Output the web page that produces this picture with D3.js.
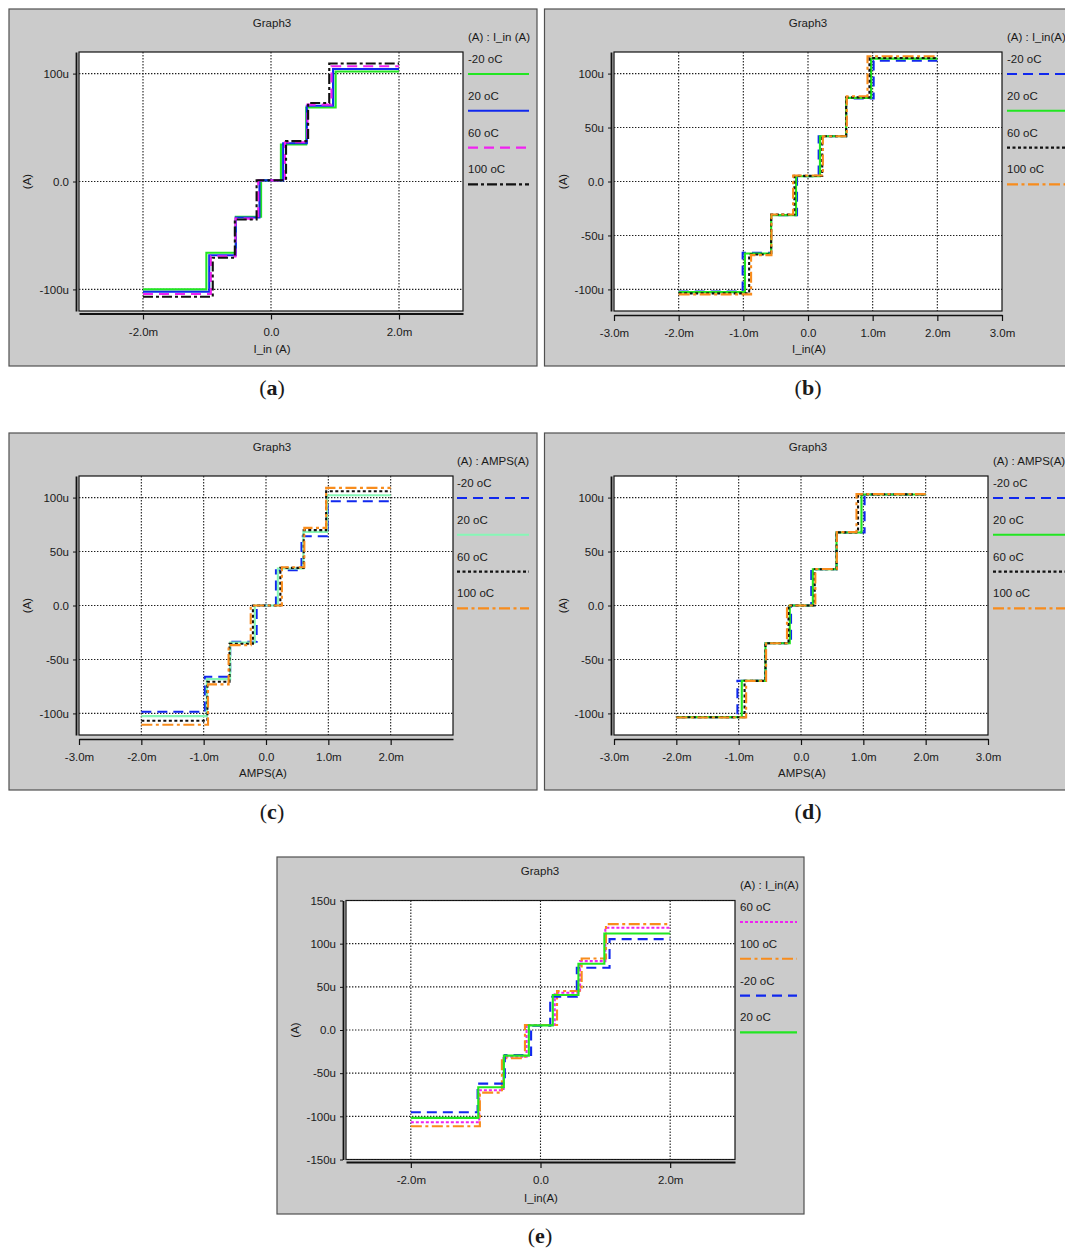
<!DOCTYPE html>
<html>
<head>
<meta charset="utf-8">
<script src="https://cdn.jsdelivr.net/npm/d3@7"></script>
<style>
  html, body { margin: 0; padding: 0; background: #fff; }
  svg { display: block; }
  text { font-family: "Liberation Sans", Arial, Helvetica, sans-serif; fill: #1a1a1a; }
</style>
</head>
<body>
<script>
// ---- data: staircase transfer curves (x in mA, y in µA) ----
const xStart = -2, xEnd = 2;

// (a)
const aSeries = ["-20 oC", "20 oC", "60 oC", "100 oC"];
const aLevels = [
  [-100.0, -66.0, -32.6, 1.0, 34.3, 68.6, 102.0],
  [-102.2, -68.4, -33.3, 1.0, 35.5, 70.2, 104.3],
  [-104.3, -69.4, -34.4, 1.0, 36.4, 71.2, 106.8],
  [-106.8, -70.7, -35.2, 1.2, 37.4, 72.8, 109.4]
];
const aSteps = [
  [-1.01, -0.55, -0.155, 0.155, 0.55, 1.01],
  [-0.965, -0.55, -0.18, 0.19, 0.56, 0.97],
  [-0.94, -0.555, -0.20, 0.218, 0.57, 0.945],
  [-0.91, -0.565, -0.225, 0.235, 0.58, 0.91]
];

// (b)
const bSeries = ["-20 oC", "20 oC", "60 oC", "100 oC"];
const bLevels = [
  [-101.9, -66.0, -31.2, 4.9, 42.0, 76.9, 112.0],
  [-102.5, -66.7, -31.2, 4.9, 42.0, 77.5, 113.9],
  [-103.7, -67.6, -30.6, 5.2, 42.0, 78.0, 114.5],
  [-104.6, -68.2, -30.6, 5.6, 42.0, 79.0, 116.0]
];
const bSteps = [
  [-1.01, -0.57, -0.17, 0.165, 0.59, 1.015],
  [-0.975, -0.57, -0.185, 0.185, 0.59, 0.975],
  [-0.91, -0.57, -0.21, 0.22, 0.59, 0.95],
  [-0.88, -0.565, -0.23, 0.23, 0.60, 0.92]
];

// (c)
const cSeries = ["-20 oC", "20 oC", "60 oC", "100 oC"];
const cLevels = [
  [-98.5, -66.0, -33.6, 0.0, 32.7, 64.2, 96.6],
  [-102.5, -68.2, -34.3, 0.0, 34.3, 68.2, 102.2],
  [-106.8, -70.7, -35.5, 0.0, 34.9, 69.8, 105.9],
  [-110.5, -73.1, -36.7, 0.0, 35.5, 71.9, 109.0]
];
const cSteps = [
  [-0.98, -0.575, -0.15, 0.16, 0.57, 0.99],
  [-0.95, -0.575, -0.18, 0.19, 0.60, 0.98],
  [-0.94, -0.585, -0.21, 0.23, 0.605, 0.965],
  [-0.93, -0.60, -0.245, 0.255, 0.615, 0.965]
];

// (d)
const dSeries = ["-20 oC", "20 oC", "60 oC", "100 oC"];
const dLevels = [
  [-103.4, -69.8, -35.0, 0.0, 33.6, 67.6, 102.8],
  [-103.4, -69.8, -35.0, 0.0, 33.6, 67.6, 102.8],
  [-103.6, -69.8, -35.0, 0.0, 33.6, 67.8, 103.0],
  [-103.8, -69.8, -35.0, 0.0, 33.8, 68.0, 103.2]
];
const dSteps = [
  [-1.02, -0.57, -0.16, 0.165, 0.57, 1.02],
  [-0.95, -0.57, -0.18, 0.19, 0.57, 0.97],
  [-0.905, -0.57, -0.20, 0.22, 0.57, 0.915],
  [-0.88, -0.56, -0.225, 0.23, 0.575, 0.89]
];

// (e)
const eSeries = ["60 oC", "100 oC", "-20 oC", "20 oC"];
const eLevels = [
  [-106.8, -69.8, -30.9, 5.8, 43.2, 79.8, 118.4],
  [-111.5, -72.5, -32.8, 5.8, 45.1, 82.9, 122.6],
  [-95.3, -62.1, -28.9, 5.0, 38.6, 72.1, 105.3],
  [-101.8, -66.3, -29.7, 5.4, 40.5, 76.7, 111.8]
];
const eSteps = [
  [-0.945, -0.57, -0.215, 0.22, 0.61, 1.0],
  [-0.935, -0.595, -0.24, 0.255, 0.635, 1.01],
  [-0.97, -0.55, -0.145, 0.15, 0.56, 1.065],
  [-0.96, -0.565, -0.18, 0.19, 0.585, 0.985]
];

// tick values and their labels
const xTicksAll = [-3, -2, -1, 0, 1, 2, 3];
const xLabelsAll = ["-3.0m", "-2.0m", "-1.0m", "0.0", "1.0m", "2.0m", "3.0m"];
const xTicksC = [-3, -2, -1, 0, 1, 2];
const xLabelsC = ["-3.0m", "-2.0m", "-1.0m", "0.0", "1.0m", "2.0m"];
const xTicksSparse = [-2, 0, 2];
const xLabelsSparse = ["-2.0m", "0.0", "2.0m"];
const yTicksSparse = [-100, 0, 100];
const yLabelsSparse = ["-100u", "0.0", "100u"];
const yTicks50 = [-100, -50, 0, 50, 100];
const yLabels50 = ["-100u", "-50u", "0.0", "50u", "100u"];
const yTicks150 = [-150, -100, -50, 0, 50, 100, 150];
const yLabels150 = ["-150u", "-100u", "-50u", "0.0", "50u", "100u", "150u"];

// ---- line styles ----
const GREEN = "#22e622", BLUE = "#1028ee", MAGENTA = "#f022f0", BLACK = "#111111",
      ORANGE = "#f88c1c", MINT = "#86f7b6";
const SOLID = null, DASH = "10,6", DASHDOT = "10,3,3,3", DOT = "3,2.5", ODASHDOT = "11,3.5,3,3.5", MDOT = "3,2";

const panels = [
  { tag: "a", frame: [9, 9, 528, 357], plot: [79, 52, 463, 311], yDom: [-120, 120], titleX: 272,
    xT: xTicksSparse, xL: xLabelsSparse, xGrid: [-2, 0, 2], yT: yTicksSparse, yL: yLabelsSparse,
    tightX: true, xTitle: "I_in (A)", xTitleX: 272, head: "(A) : I_in (A)", legX: 468, legW: 61,
    series: aSeries, levels: aLevels, steps: aSteps,
    colors: [GREEN, BLUE, MAGENTA, BLACK], dashes: [SOLID, SOLID, DASH, DASHDOT], cap: [272, 390] },
  { tag: "b", frame: [544.5, 9, 540, 357], plot: [614, 52, 1002, 311], yDom: [-120, 120], titleX: 808,
    xT: xTicksAll, xL: xLabelsAll, xGrid: [-2, -1, 0, 1, 2], yT: yTicks50, yL: yLabels50,
    tightX: false, xTitle: "I_in(A)", xTitleX: 809, head: "(A) : I_in(A)", legX: 1007, legW: 70,
    series: bSeries, levels: bLevels, steps: bSteps,
    colors: [BLUE, GREEN, BLACK, ORANGE], dashes: [DASH, SOLID, DOT, ODASHDOT], cap: [808, 390] },
  { tag: "c", frame: [9, 433, 528, 357], plot: [79, 476, 453, 735], yDom: [-120, 120], titleX: 272,
    xT: xTicksC, xL: xLabelsC, xGrid: [-2, -1, 0, 1, 2], yT: yTicks50, yL: yLabels50,
    tightX: false, xTitle: "AMPS(A)", xTitleX: 263, head: "(A) : AMPS(A)", legX: 457, legW: 72,
    series: cSeries, levels: cLevels, steps: cSteps,
    colors: [BLUE, MINT, BLACK, ORANGE], dashes: [DASH, SOLID, DOT, ODASHDOT], cap: [272, 814] },
  { tag: "d", frame: [544.5, 433, 540, 357], plot: [614, 476, 988, 735], yDom: [-120, 120], titleX: 808,
    xT: xTicksAll, xL: xLabelsAll, xGrid: [-2, -1, 0, 1, 2], yT: yTicks50, yL: yLabels50,
    tightX: false, xTitle: "AMPS(A)", xTitleX: 802, head: "(A) : AMPS(A)", legX: 993, legW: 80,
    series: dSeries, levels: dLevels, steps: dSteps,
    colors: [BLUE, GREEN, BLACK, ORANGE], dashes: [DASH, SOLID, DOT, ODASHDOT], cap: [808, 814] },
  { tag: "e", frame: [277, 857, 527, 357], plot: [346, 900.5, 735, 1159.5], yDom: [-150, 150], titleX: 540,
    xT: xTicksSparse, xL: xLabelsSparse, xGrid: [-2, 0, 2], yT: yTicks150, yL: yLabels150,
    tightX: true, xTitle: "I_in(A)", xTitleX: 541, head: "(A) : I_in(A)", legX: 740, legW: 57,
    series: eSeries, levels: eLevels, steps: eSteps,
    colors: [MAGENTA, ORANGE, BLUE, GREEN], dashes: [MDOT, ODASHDOT, DASH, SOLID], cap: [540, 1238] }
];

const W = 1065, H = 1254;
const svg = d3.select("body").append("svg").attr("width", W).attr("height", H);
svg.append("rect").attr("width", W).attr("height", H).attr("fill", "#fff");

function drawPanel(p) {
  const g = svg.append("g");
  const [fx, fy, fw, fh] = p.frame;
  const [L, T, R, B] = p.plot;

  // grey window
  g.append("rect").attr("x", fx).attr("y", fy).attr("width", fw).attr("height", fh)
    .attr("fill", "#cbcbcb").attr("stroke", "#505050").attr("stroke-width", 1.2);

  g.append("text").attr("x", p.titleX).attr("y", fy + 15).attr("text-anchor", "middle")
    .attr("dominant-baseline", "middle").attr("font-size", 11.5).text("Graph3");

  const x = d3.scaleLinear().domain([-3, 3]).range([L, R]);
  const y = d3.scaleLinear().domain(p.yDom).range([B, T]);

  // plotting area
  g.append("rect").attr("x", L).attr("y", T).attr("width", R - L).attr("height", B - T)
    .attr("fill", "#fff").attr("stroke", "#111").attr("stroke-width", 1.2);

  // dotted grid
  const grid = g.append("g").attr("stroke", "#1e1e1e").attr("stroke-width", 1.1)
    .attr("stroke-dasharray", "1.4,1.6").attr("fill", "none");
  grid.selectAll(".gx").data(p.xGrid).join("line")
    .attr("x1", d => x(d)).attr("x2", d => x(d)).attr("y1", T).attr("y2", B);
  grid.selectAll(".gy").data(p.yT).join("line")
    .attr("x1", L).attr("x2", R).attr("y1", d => y(d)).attr("y2", d => y(d));

  // y axis (separate line just left of the plotting area)
  const yAxis = d3.axisLeft(y).tickValues(p.yT).tickFormat((d, i) => p.yL[i])
    .tickSize(3).tickSizeOuter(0).tickPadding(4);
  const ya = g.append("g").attr("transform", `translate(${L - 3},0)`).call(yAxis);
  ya.select(".domain").attr("stroke", "#111").attr("stroke-width", 1.8);
  ya.selectAll(".tick line").attr("stroke", "#111");
  ya.selectAll(".tick text").attr("font-size", 11.5).attr("fill", "#1a1a1a")
    .attr("font-family", "Liberation Sans, Arial, sans-serif");

  // x axis
  const axY = p.tightX ? B + 2.5 : B + 4;
  const xAxis = d3.axisBottom(x).tickValues(p.xT).tickFormat((d, i) => p.xL[i])
    .tickSize(6).tickSizeOuter(0).tickPadding(8);
  const xa = g.append("g").attr("transform", `translate(0,${axY})`).call(xAxis);
  xa.select(".domain").attr("stroke", "#111").attr("stroke-width", p.tightX ? 2 : 1.5);
  xa.selectAll(".tick line").attr("stroke", "#111").attr("stroke-width", 1.2);
  xa.selectAll(".tick text").attr("font-size", 11.5).attr("fill", "#1a1a1a")
    .attr("font-family", "Liberation Sans, Arial, sans-serif");

  g.append("text").attr("x", p.xTitleX).attr("y", B + 39).attr("text-anchor", "middle")
    .attr("dominant-baseline", "middle").attr("font-size", 11.5).text(p.xTitle);

  const ylx = fx + 19, yly = (T + B) / 2;
  g.append("text").attr("transform", `translate(${ylx},${yly}) rotate(-90)`)
    .attr("text-anchor", "middle").attr("dominant-baseline", "middle")
    .attr("font-size", 11.5).text("(A)");

  // staircase curves
  const line = d3.line().x(d => x(d[0])).y(d => y(d[1])).curve(d3.curveStepAfter);
  p.series.forEach((name, i) => {
    const lv = p.levels[i], st = p.steps[i];
    const pts = [[xStart, lv[0]], ...st.map((s, k) => [s, lv[k + 1]]), [xEnd, lv[lv.length - 1]]];
    g.append("path").datum(pts).attr("d", line).attr("fill", "none")
      .attr("stroke", p.colors[i]).attr("stroke-width", 2.1)
      .attr("stroke-dasharray", p.dashes[i]);
  });

  // legend
  const lg = g.append("g").attr("font-size", 11.5);
  lg.append("text").attr("x", p.legX).attr("y", fy + 29).attr("dominant-baseline", "middle").text(p.head);
  p.series.forEach((name, i) => {
    const ty = fy + 51 + i * 36.8;
    lg.append("text").attr("x", p.legX).attr("y", ty).attr("dominant-baseline", "middle").text(name);
    lg.append("line").attr("x1", p.legX).attr("x2", p.legX + p.legW)
      .attr("y1", ty + 14).attr("y2", ty + 14)
      .attr("stroke", p.colors[i]).attr("stroke-width", 2.1).attr("stroke-dasharray", p.dashes[i]);
  });

  // caption
  const cap = svg.append("text").attr("x", p.cap[0]).attr("y", p.cap[1])
    .attr("text-anchor", "middle").attr("dominant-baseline", "middle")
    .style("font-family", "'Liberation Serif', 'DejaVu Serif', serif").attr("font-size", 22).attr("fill", "#000");
  cap.append("tspan").text("(");
  cap.append("tspan").attr("font-weight", "bold").text(p.tag);
  cap.append("tspan").text(")");
}

panels.forEach(drawPanel);
</script>
</body>
</html>
